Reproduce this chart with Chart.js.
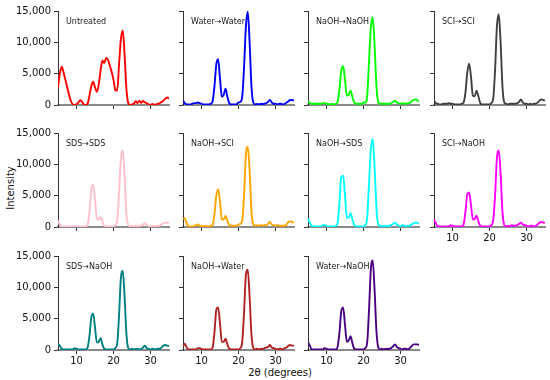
<!DOCTYPE html>
<html>
<head>
<meta charset="utf-8">
<script src="https://cdn.jsdelivr.net/npm/chart.js@4.4.0/dist/chart.umd.min.js"></script>
<style>
  html, body { margin:0; padding:0; background:#fff; }
  #fig { position:relative; width:550px; height:380px; overflow:hidden; background:#fff; }
  canvas { position:absolute; }
  .lbl { position:absolute; font-family:"DejaVu Sans", sans-serif; font-size:10px; color:#111; white-space:nowrap; }
</style>
</head>
<body>
<div id="fig">
  <div class="lbl" id="ylab" style="left:10px; top:188px; transform:translate(-50%,-50%) rotate(-90deg);">Intensity</div>
  <div class="lbl" id="xlab" style="left:280px; top:372px; transform:translate(-50%,-50%);">2θ (degrees)</div>
</div>
<script>
// ---- data ----
const twoTheta = [5,5.5,6,6.5,7,7.5,8,8.5,9,9.5,10,10.5,11,11.5,12,12.5,13,13.5,14,14.5,15,15.5,16,16.5,17,17.5,18,18.5,19,19.5,20,20.5,21,21.5,22,22.5,23,23.5,24,24.5,25,25.5,26,26.5,27,27.5,28,28.5,29,29.5,30,30.5,31,31.5,32,32.5,33,33.5,34,34.5,35];
const xTicks = [10,20,30];
const yTicks = [0,5000,10000,15000];

const untreated = [2800,5000,6100,5200,4000,2800,1600,600,100,0,100,400,750,500,100,0,200,1500,3000,3700,2800,2100,3200,5500,7100,6700,7500,7200,6300,5300,4000,2400,2300,6500,10500,11900,8000,2500,300,0,100,200,600,300,700,350,650,400,300,100,0,150,50,100,200,300,500,700,1000,1200,1000];
const waterWater = [700,300,100,100,100,200,300,300,400,300,200,100,100,100,100,200,600,3000,6500,7300,4200,1300,1600,2600,1300,300,100,100,100,100,400,500,1300,6000,12500,14900,10000,3000,400,100,150,100,200,150,200,300,500,800,400,200,200,100,200,200,100,200,400,600,800,800,700];
const naohNaoh = [600,300,200,200,200,200,200,200,300,300,200,150,100,150,100,200,500,2500,5500,6200,4000,1500,1700,2300,1300,400,200,200,200,200,400,400,1500,7000,12500,14000,9500,3000,500,200,200,200,200,200,200,300,500,700,400,300,200,300,200,200,300,300,600,800,900,800,500];
const sciSci = [700,300,200,100,100,200,200,200,300,200,200,100,100,100,100,200,400,2000,5200,6600,4500,1500,1400,2300,1400,300,100,100,100,100,100,300,1000,5500,12500,14500,10000,3000,400,200,100,200,200,200,200,300,500,900,400,200,200,100,200,100,200,200,400,700,900,800,700];
const sdsSds = [1000,400,100,100,100,100,100,100,150,100,100,100,100,100,100,100,300,2500,6000,6800,4300,1300,1200,1600,900,200,100,100,100,100,100,300,1000,5500,11000,12200,8000,2000,300,100,150,100,200,100,150,200,400,600,300,150,100,200,100,150,200,200,400,600,700,700,500];
const naohSci = [1300,1400,600,100,100,100,150,300,400,200,150,100,150,100,100,200,300,2000,5000,6000,4000,1200,1200,1800,1000,300,200,200,200,200,400,500,1000,5000,11500,12800,9000,2500,400,200,300,200,300,200,300,300,500,800,400,300,200,300,200,200,200,200,400,800,900,800,700];
const naohSds = [1300,700,200,100,100,100,100,100,300,300,200,100,100,100,100,200,600,4000,8000,8200,5000,1500,1500,2200,1200,300,100,100,100,100,100,300,1500,7000,12500,14000,9500,3000,400,100,200,100,200,150,200,300,500,700,400,200,100,300,200,100,200,200,400,600,700,700,500];
const sciNaoh = [1200,600,100,100,100,100,100,100,100,300,200,100,100,100,100,100,400,2500,5200,5500,3500,1200,1300,1800,900,200,100,100,100,100,100,300,1000,5000,11000,12200,8500,2500,300,100,200,100,300,200,200,300,500,700,400,300,200,100,200,200,100,200,400,700,800,700,700];
const sdsNaoh = [900,700,200,100,100,100,100,100,100,300,200,100,100,100,100,100,400,2200,5200,5800,3600,1200,1300,1900,900,200,100,100,100,100,100,300,1000,5500,11500,12600,8500,2500,300,100,200,100,150,200,100,200,400,700,300,200,100,200,100,150,200,200,400,700,800,700,600];
const naohWater = [600,1000,400,100,100,100,100,100,300,300,200,100,100,100,100,100,400,2800,6400,6800,4200,1300,1300,1800,900,200,100,100,100,100,100,300,1200,6000,12000,12800,8500,2500,300,100,200,100,200,150,300,400,500,800,400,300,200,100,200,200,100,300,400,700,800,700,700];
const waterNaoh = [1200,700,100,100,100,100,100,100,100,300,200,100,100,100,100,100,500,2800,6200,6800,4000,1300,1500,2200,1100,200,100,100,100,100,100,300,1200,6500,13000,14300,9500,3000,400,100,200,100,200,150,200,300,600,900,500,300,200,100,200,200,100,300,600,900,900,900,800];

const panelTitles = ['Untreated','Water→Water','NaOH→NaOH','SCI→SCI','SDS→SDS','NaOH→SCI','NaOH→SDS','SCI→NaOH','SDS→NaOH','NaOH→Water','Water→NaOH'];
const panelSeries = [untreated, waterWater, naohNaoh, sciSci, sdsSds, naohSci, naohSds, sciNaoh, sdsNaoh, naohWater, waterNaoh];

// ---- styles / layout ----
const panelColors = ['#ff0000','#0000ff','#00ff00','#404040','#ffc0cb','#ffa500','#00ffff','#ff00ff','#008080','#b22222','#4b0082'];
const COLS = [58,183,308,434];
const ROWS = [11,133,256];
const PW = 111, PH = 94, YW = 56, XH = 24, PT = 10, PR = 6;
const FONT = '"DejaVu Sans", sans-serif';

const titlePlugin = {
  id: 'panelTitle',
  afterDatasetsDraw(chart, args, opts) {
    const ctx = chart.ctx, a = chart.chartArea;
    ctx.save();
    ctx.font = '8px ' + FONT;
    ctx.fillStyle = '#1a1a1a';
    ctx.textBaseline = 'middle';
    ctx.textAlign = 'left';
    ctx.fillText(opts.text, a.left + 8, a.top + 11);
    ctx.restore();
  }
};

const fig = document.getElementById('fig');
panelSeries.forEach((series, i) => {
  const col = i % 4, row = Math.floor(i / 4);
  const showY = col === 0;
  const showX = row === 2 || (row === 1 && col === 3);
  const W = YW + PW + PR, H = PT + PH + XH;
  const c = document.createElement('canvas');
  c.width = W; c.height = H;
  c.style.width = W + 'px'; c.style.height = H + 'px';
  c.style.left = (COLS[col] - YW) + 'px';
  c.style.top = (ROWS[row] - PT) + 'px';
  fig.appendChild(c);
  new Chart(c, {
    type: 'line',
    data: {
      datasets: [{
        data: twoTheta.map((x, k) => ({x: x, y: series[k]})),
        borderColor: panelColors[i],
        borderWidth: 1.9,
        pointRadius: 0,
        fill: false,
        cubicInterpolationMode: 'monotone'
      }]
    },
    plugins: [titlePlugin],
    options: {
      responsive: false,
      animation: false,
      devicePixelRatio: 1,
      layout: { padding: { top: PT, right: PR, left: 0, bottom: 0 } },
      plugins: {
        legend: { display: false },
        tooltip: { enabled: false },
        panelTitle: { text: panelTitles[i] }
      },
      scales: {
        x: {
          type: 'linear', min: 5, max: 35,
          afterBuildTicks: s => { s.ticks = xTicks.map(v => ({value: v})); },
          afterFit: s => { s.height = XH; },
          grid: { drawOnChartArea: false, drawTicks: true, tickLength: 4, tickColor: '#333', tickWidth: 1 },
          border: { color: '#8a8a8a', width: 2 },
          ticks: { display: showX, font: { family: FONT, size: 10 }, color: '#111', padding: 1, maxRotation: 0, autoSkip: false }
        },
        y: {
          min: 0, max: 15000,
          afterBuildTicks: s => { s.ticks = yTicks.map(v => ({value: v})); },
          afterFit: s => { s.width = YW; },
          grid: { drawOnChartArea: false, drawTicks: true, tickLength: 4, tickColor: '#333', tickWidth: 1 },
          border: { color: '#333', width: 1 },
          ticks: { display: showY, font: { family: FONT, size: 10 }, color: '#111', padding: 3,
                   callback: v => v.toLocaleString('en-US') }
        }
      }
    }
  });
});
</script>
</body>
</html>
